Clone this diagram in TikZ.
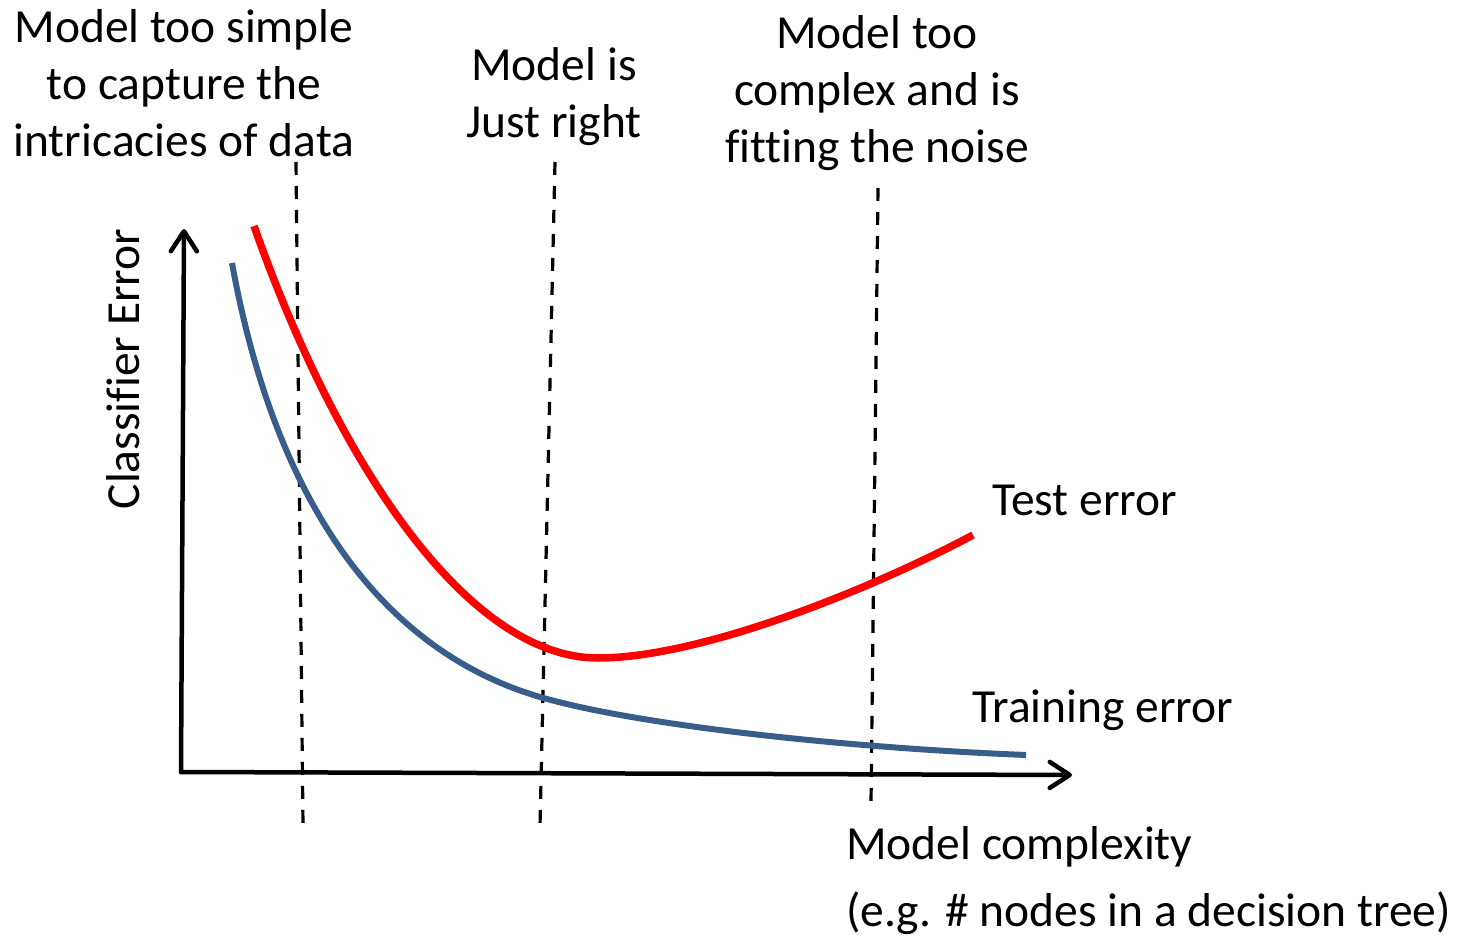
\documentclass[tikz,border=0pt]{standalone}
\usepackage{fontspec}
\setmainfont[Ligatures=NoCommon]{Carlito}
\usetikzlibrary{arrows.meta}
\definecolor{trainblue}{HTML}{385D8A}
\definecolor{testred}{HTML}{FF0000}
\tikzset{
  lbl/.style={inner sep=0pt, font=\fontsize{47.5}{57}\selectfont, text=black},
  axis/.style={line width=4.5pt, line cap=round, line join=round, -{Straight Barb[length=20pt,width=26pt,round]}},
  guide/.style={line width=3.2pt, dash pattern=on 13pt off 11pt},
  testcurve/.style={line width=7.5pt, testred},
  traincurve/.style={line width=6pt, trainblue}
}
\begin{document}
\begin{tikzpicture}[x=1pt,y=-1pt]
\useasboundingbox (0,0) rectangle (1468,936);
% axes
\coordinate (O) at (181,772);
\coordinate (Ytop) at (184,229);
\coordinate (Xend) at (1072,775);
\draw[axis] (O) -- (Ytop);
\draw[axis] (O) -- (Xend);
% dashed guide lines
\coordinate (d1a) at (296,162); \coordinate (d1b) at (303,826);
\coordinate (d2a) at (555,162); \coordinate (d2b) at (540,826);
\coordinate (d3a) at (878,188); \coordinate (d3b) at (871,803);
\draw[guide] (d1a) -- (d1b);
\draw[guide] (d2a) -- (d2b);
\draw[guide] (d3a) -- (d3b);
% curves
\coordinate (r0) at (254,226); \coordinate (rm) at (598,658); \coordinate (r1) at (973,535);
\draw[testcurve] (r0) .. controls (340,470) and (470,658) .. (rm)
                      .. controls (700,658) and (870,590) .. (r1);
\coordinate (b0) at (232,263); \coordinate (bm) at (540,697); \coordinate (b1) at (1026,755);
\draw[traincurve] (b0) .. controls (275,500) and (380,650) .. (bm)
                       .. controls (640,726) and (850,748) .. (b1);
% labels
\node[lbl, anchor=base] (t1a) at (184,43) {Model too simple};
\node[lbl, anchor=base] (t1b) at (184,100) {to capture the};
\node[lbl, anchor=base] (t1c) at (184,157) {intricacies of data};
\node[lbl, anchor=base] (t2a) at (554,81) {Model is};
\node[lbl, anchor=base] (t2b) at (554,138) {Just right};
\node[lbl, anchor=base] (t3a) at (877,49) {Model too};
\node[lbl, anchor=base] (t3b) at (877,106) {complex and is};
\node[lbl, anchor=base] (t3c) at (877,163) {fitting the noise};
\node[lbl, anchor=base west] (test) at (992,515) {Test error};
\node[lbl, anchor=base west] (train) at (972,722) {Training error};
\node[lbl, anchor=base west] (xl1) at (846,859) {Model complexity};
\node[lbl, anchor=base west] (xl2) at (846,926) {(e.g. \# nodes in a decision tree)};
\node[lbl, anchor=base, rotate=90] (yl) at (139,369) {Classifier Error};
\end{tikzpicture}
\end{document}
